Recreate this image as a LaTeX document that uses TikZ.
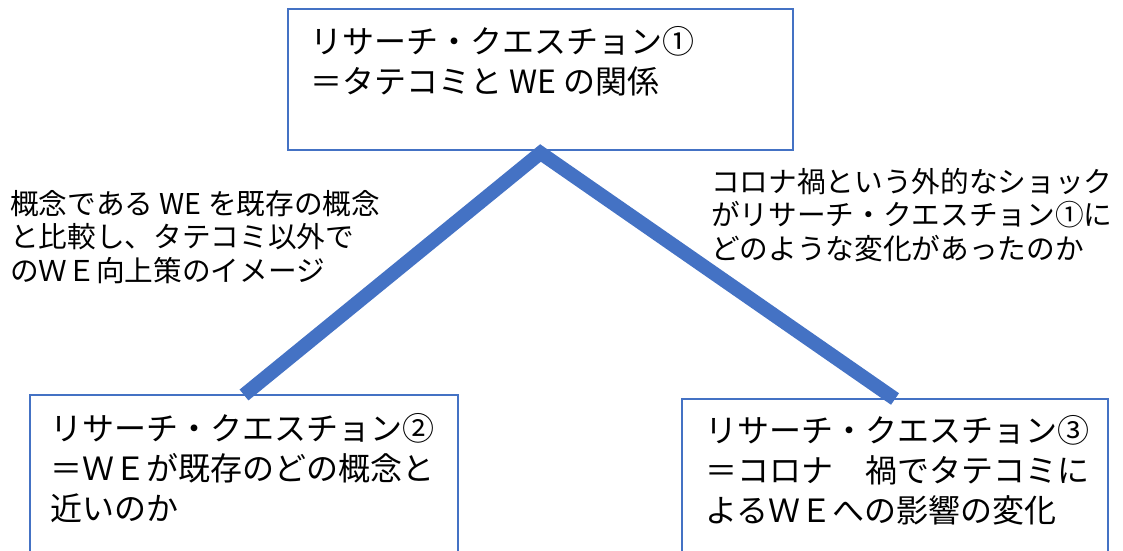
\documentclass[tikz,border=0pt]{standalone}
\usepackage{fontspec}
\newfontfamily\jpfont{Noto Sans CJK JP}
\definecolor{lineblue}{HTML}{4472C4}
\tikzstyle{question}=[draw=lineblue,line width=1pt,rectangle,inner sep=0pt,outer sep=0pt]
\tikzstyle{branch} = [draw=lineblue,line width=10.5pt,line join=miter,-]
\tikzstyle{qtext} = [font=\jpfont\fontsize{24pt}{30pt}\selectfont,align=left,inner sep=0pt,anchor=base west]
\tikzstyle{note} = [font=\jpfont\fontsize{21.5pt}{25pt}\selectfont,align=left,inner sep=0pt,anchor=base west]
\newcommand{\rqunit}{0.75pt}

\begin{document}
\begin{tikzpicture}[x=\rqunit, y=-\rqunit]
    \clip (0,0) rectangle (1123,550);
    % First we draw the question boxes
    \foreach \pos/\name/\w/\h in {{(540.5,79.5)/top/505/141}, {(244,477.5)/left/428/165}, {(895,479.5)/right/426/161}}
        \node[question, minimum width=\w*\rqunit, minimum height=\h*\rqunit] (\name) at \pos {};
    % Connect boxes with the thick branch
    \path[branch] (left.north) -- ([yshift=-3*\rqunit]top.south) -- (right.north);
    % Texts of the boxes and the branches (placed by the last line)
    \node[qtext] (toptext) at (310,93) {リサーチ・クエスチョン①\\＝タテコミと WE の関係};
    \node[qtext] (lefttext) at (50,520) {リサーチ・クエスチョン②\\＝ＷＥが既存のどの概念と\\近いのか};
    \node[qtext] (righttext) at (705,522) {リサーチ・クエスチョン③\\＝コロナ　禍でタテコミに\\よるＷＥへの影響の変化};
    \node[note] (leftnote) at (10,281) {概念である WE を既存の概念\\と比較し、タテコミ以外で\\のＷＥ向上策のイメージ};
    \node[note] (rightnote) at (711,259) {コロナ禍という外的なショック\\がリサーチ・クエスチョン①に\\どのような変化があったのか};
\end{tikzpicture}
\end{document}
